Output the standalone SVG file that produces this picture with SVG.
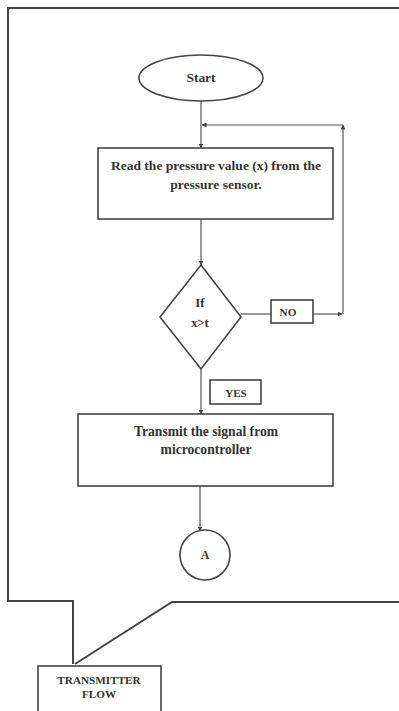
<svg xmlns="http://www.w3.org/2000/svg" width="399" height="711" viewBox="0 0 399 711">
<defs>
<marker id="ah" viewBox="0 0 10 10" refX="9" refY="5" markerWidth="5" markerHeight="5" orient="auto" markerUnits="userSpaceOnUse">
<path d="M0,0 L10,5 L0,10 z" fill="#444"/>
</marker>
</defs>
<style>
.s{fill:#fff;stroke:#444;stroke-width:1.6}
.c{fill:none;stroke:#555;stroke-width:1.2}
.t{font-family:"Liberation Serif",serif;font-weight:bold;fill:#333;text-anchor:middle}
</style>
<rect width="399" height="711" fill="#fff"/>
<g id="frame">
<path d="M399,8 L8,8 L8,601 L73,601 L73,664 M75,664 L172,602 L399,602" fill="none" stroke="#444" stroke-width="2"/>
</g>
<g id="connectors">
<line class="c" x1="201" y1="101" x2="201" y2="148" marker-end="url(#ah)"/>
<line class="c" x1="201" y1="219" x2="201" y2="265" marker-end="url(#ah)"/>
<line class="c" x1="241" y1="314" x2="271" y2="314"/>
<line class="c" x1="313" y1="314" x2="342" y2="314" marker-end="url(#ah)"/>
<line class="c" x1="343" y1="314" x2="343" y2="125" marker-end="url(#ah)"/>
<line class="c" x1="343" y1="125" x2="202" y2="125" marker-end="url(#ah)"/>
<line class="c" x1="201" y1="369" x2="201" y2="414" marker-end="url(#ah)"/>
<line class="c" x1="200" y1="486" x2="200" y2="531" marker-end="url(#ah)"/>
</g>
<g id="start">
<ellipse class="s" cx="201" cy="78" rx="62" ry="23"/>
<text class="t" x="201" y="82" font-size="13.4">Start</text>
</g>
<g id="read">
<rect class="s" x="98" y="148" width="235" height="71"/>
<text class="t" x="216" y="170" font-size="13.5">Read the pressure value (x) from the</text>
<text class="t" x="216" y="189" font-size="13.5">pressure sensor.</text>
</g>
<g id="decision">
<path class="s" d="M201,265 L241,317 L201,369 L160,317 z"/>
<text class="t" x="200" y="307" font-size="13">If</text>
<text class="t" x="200" y="327" font-size="12.5">x&gt;t</text>
</g>
<g id="no">
<rect class="s" x="271" y="300" width="42" height="23" stroke-width="1.2"/>
<text class="t" x="288" y="315.5" font-size="11.2">NO</text>
</g>
<g id="yes">
<rect class="s" x="210" y="380" width="51" height="24" stroke-width="1.2"/>
<text class="t" x="236" y="396.5" font-size="11">YES</text>
</g>
<g id="transmit">
<rect class="s" x="78" y="414" width="255" height="72"/>
<text class="t" x="206" y="436" font-size="13.6">Transmit the signal from</text>
<text class="t" x="206" y="454" font-size="13.6">microcontroller</text>
</g>
<g id="connector-a">
<circle class="s" cx="205" cy="555" r="25"/>
<text class="t" x="205" y="559" font-size="12">A</text>
</g>
<g id="transmitter-flow">
<rect class="s" x="38" y="666" width="123" height="50"/>
<text class="t" x="99" y="684" font-size="11.2">TRANSMITTER</text>
<text class="t" x="99" y="697.5" font-size="11.2">FLOW</text>
</g>
</svg>
